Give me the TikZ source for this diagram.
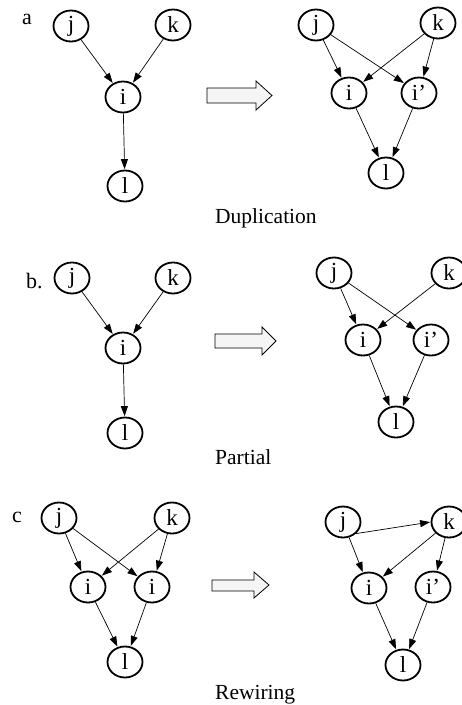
\documentclass[tikz,border=0pt]{standalone}
\usepackage{fontspec}
\setmainfont{Liberation Serif}
\usetikzlibrary{shapes.geometric,arrows.meta}
\begin{document}
\begin{tikzpicture}[x=1pt,y=-1pt,
  gnode/.style={draw,ellipse,line width=1.8pt,minimum width=35pt,minimum height=31pt,inner sep=0pt,font=\fontsize{23}{25}\selectfont},
  edge/.style={-{Triangle[length=10pt,width=7pt]},line width=0.7pt,shorten >=0.5pt},
  caption/.style={anchor=base west,font=\fontsize{21.5}{24}\selectfont,inner sep=0pt},
  plabel/.style={anchor=base west,font=\fontsize{22}{24}\selectfont,inner sep=0pt},
  bigarrow/.style={draw,line width=0.8pt,fill=black!4}]
\clip (0,0) rectangle (462,705);
\fill[white] (0,0) rectangle (462,705);

% ---------- panel a ----------
\node[plabel] (la) at (22,24) {a};
\node[gnode] (aj) at (71,26) {j};
\node[gnode] (ak) at (173,25) {k};
\node[gnode] (ai) at (123,97) {i};
\node[gnode] (al) at (125,186) {l};
\draw[edge] (aj) -- (ai);
\draw[edge] (ak) -- (ai);
\draw[edge] (ai) -- (al);
\draw[bigarrow] (207,88) -- (256,88) -- (256,81) -- (272,95.5) -- (256,110) -- (256,103) -- (207,103) -- cycle;
\node[gnode] (Aj) at (316,25) {j};
\node[gnode] (Ak) at (438,23) {k};
\node[gnode] (Ai) at (349,93) {i};
\node[gnode] (Aip) at (419,93) {i’};
\node[gnode] (Al) at (386,173) {l};
\draw[edge] (Aj) -- (Ai);
\draw[edge] (Aj) -- (Aip);
\draw[edge] (Ak) -- (Ai);
\draw[edge] (Ak) -- (Aip);
\draw[edge] (Ai) -- (Al);
\draw[edge] (Aip) -- (Al);
\node[caption] (ca) at (215,223) {Duplication};

% ---------- panel b ----------
\node[plabel] (lb) at (26,288) {b.};
\node[gnode] (bj) at (72,278) {j};
\node[gnode] (bk) at (173,278) {k};
\node[gnode] (bi) at (123,348) {i};
\node[gnode] (bl) at (125,433) {l};
\draw[edge] (bj) -- (bi);
\draw[edge] (bk) -- (bi);
\draw[edge] (bi) -- (bl);
\draw[bigarrow] (215,334) -- (262,334) -- (262,327) -- (276,341) -- (262,355) -- (262,348) -- (215,348) -- cycle;
\node[gnode] (Bj) at (334,273) {j};
\node[gnode] (Bk) at (449,273) {k};
\node[gnode] (Bi) at (363,340) {i};
\node[gnode] (Bip) at (431,340) {i’};
\node[gnode] (Bl) at (396,422) {l};
\draw[edge] (Bj) -- (Bi);
\draw[edge] (Bj) -- (Bip);
\draw[edge] (Bk) -- (Bi);
\draw[edge] (Bi) -- (Bl);
\draw[edge] (Bip) -- (Bl);
\node[caption] (cb) at (215,464) {Partial};

% ---------- panel c ----------
\node[plabel] (lc) at (12,522) {c};
\node[gnode] (cj) at (59,518) {j};
\node[gnode] (ck) at (172,518) {k};
\node[gnode] (ci) at (88,587) {i};
\node[gnode] (cii) at (152,587) {i};
\node[gnode] (cl) at (125,662) {l};
\draw[edge] (cj) -- (ci);
\draw[edge] (cj) -- (cii);
\draw[edge] (ck) -- (ci);
\draw[edge] (ck) -- (cii);
\draw[edge] (ci) -- (cl);
\draw[edge] (cii) -- (cl);
\draw[bigarrow] (212,580) -- (254,580) -- (254,572) -- (269,585) -- (254,598) -- (254,591) -- (212,591) -- cycle;
\node[gnode] (Cj) at (343,522) {j};
\node[gnode] (Ck) at (449,522) {k};
\node[gnode] (Ci) at (369,588) {i};
\node[gnode] (Cip) at (433,587) {i’};
\node[gnode] (Cl) at (403,665) {l};
\draw[edge] (Cj.south east) -- (Ck.west);
\draw[edge] (Cj) -- (Ci);
\draw[edge] (Ck) -- (Ci);
\draw[edge] (Ck) -- (Cip);
\draw[edge] (Ci) -- (Cl);
\draw[edge] (Cip) -- (Cl);
\node[caption] (cc) at (215,699) {Rewiring};
\end{tikzpicture}
\end{document}
